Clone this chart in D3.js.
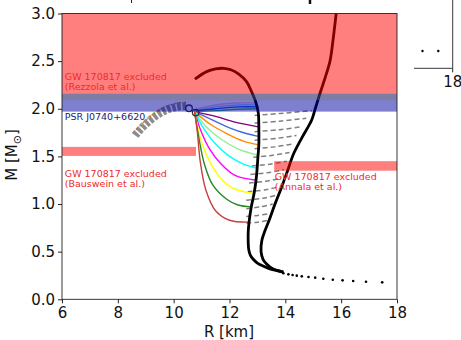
<!DOCTYPE html>
<html>
<head>
<meta charset="utf-8">
<script src="https://cdn.jsdelivr.net/npm/d3@7"></script>
<style>
  body { margin: 0; background: #fff; }
  text { font-family: "DejaVu Sans", sans-serif; }
</style>
</head>
<body>
<div class="chart"></div>
<script>
// axis ticks
var tickR = [6, 8, 10, 12, 14, 16, 18];
var tickM = [0, 0.5, 1, 1.5, 2, 2.5, 3];

// black M-R curves (R km, M Msun)
var curveA = [[10.76,2.31],[11.18,2.39],[11.5,2.418],[11.78,2.425],[12.05,2.41],[12.32,2.365],[12.61,2.285],
  [12.79,2.18],[12.93,2.08],[13.03,1.96],[13.05,1.81],[13.05,1.62],[13.02,1.5],[12.99,1.375],[12.95,1.25],
  [12.88,1.11],[12.78,0.97],[12.7,0.81],[12.67,0.7],[12.67,0.6],[12.69,0.52],[12.75,0.46],[12.85,0.42],
  [13.0,0.38],[13.2,0.35],[13.45,0.32],[13.7,0.30],[13.93,0.285]];
var curveB = [[15.82,3.0],[15.7,2.7],[15.6,2.5],[15.42,2.32],[15.24,2.16],[15.06,1.99],[14.94,1.88],[14.6,1.7],
  [14.3,1.53],[14.08,1.35],[13.87,1.18],[13.63,1.0],[13.42,0.83],[13.27,0.72],[13.16,0.62],[13.13,0.5],
  [13.2,0.42],[13.33,0.37],[13.55,0.32],[13.93,0.285]];
// crust tail, drawn as dots
var crustR = [13.93,14.11,14.26,14.41,14.59,14.83,15.07,15.36,15.70,16.05,16.43,16.89,17.47];
var crustM = [0.273,0.262,0.255,0.248,0.241,0.234,0.227,0.216,0.206,0.199,0.192,0.185,0.178];

// hybrid branches, top to bottom
var hybridColors = ["#ffb6c1","#87cefa","#1e50ff","#3cb371","#800080","#4169e1","#ff8c00",
  "#90ee90","#00ffff","#ff00ff","#ffff00","#228b22","#c84040"];
var hybridBranches = [
  [[10.75,1.99],[11.5,2.04],[12.3,2.06],[13.0,2.06]],
  [[10.75,1.98],[11.5,2.02],[12.3,2.04],[13.02,2.04]],
  [[10.75,1.975],[11.5,2.0],[12.3,2.02],[13.03,2.02]],
  [[10.75,1.97],[11.5,1.98],[12.3,1.995],[13.04,2.0]],
  [[10.75,1.97],[11.5,1.92],[12.2,1.86],[13.03,1.81]],
  [[10.75,1.97],[11.4,1.88],[12.0,1.8],[12.6,1.74],[13.03,1.71]],
  [[10.75,1.97],[11.3,1.84],[11.9,1.74],[12.5,1.66],[13.05,1.62]],
  [[10.75,1.97],[11.2,1.8],[11.7,1.68],[12.3,1.58],[13.0,1.515]],
  [[10.75,1.97],[11.1,1.78],[11.5,1.63],[12.0,1.5],[12.5,1.42],[13.0,1.375]],
  [[10.75,1.97],[11.0,1.75],[11.3,1.57],[11.7,1.42],[12.2,1.3],[12.97,1.25]],
  [[10.75,1.97],[10.95,1.7],[11.2,1.5],[11.6,1.3],[12.1,1.17],[12.9,1.11]],
  [[10.75,1.97],[10.9,1.7],[11.1,1.42],[11.4,1.2],[11.9,1.05],[12.3,0.99],[12.78,0.97]],
  [[10.75,1.97],[10.85,1.75],[10.95,1.45],[11.15,1.15],[11.5,0.93],[12.0,0.83],[12.7,0.81]]
];
// grey dashed twin branches between curve A and curve B
var twinBranches = [
  [[12.9,1.93],[13.8,1.95],[14.95,1.98]],
  [[12.9,1.85],[13.8,1.87],[14.75,1.9]],
  [[12.9,1.76],[13.8,1.78],[14.55,1.81]],
  [[12.9,1.67],[13.7,1.69],[14.4,1.72]],
  [[12.9,1.58],[13.6,1.6],[14.25,1.63]],
  [[12.85,1.49],[13.5,1.51],[14.15,1.54]],
  [[12.8,1.4],[13.5,1.42],[14.05,1.45]],
  [[12.75,1.31],[13.4,1.33],[13.95,1.36]],
  [[12.7,1.22],[13.3,1.24],[13.85,1.27]],
  [[12.65,1.13],[13.3,1.15],[13.75,1.18]],
  [[12.6,1.04],[13.2,1.06],[13.65,1.09]],
  [[12.6,0.95],[13.1,0.97],[13.55,1.0]],
  [[12.6,0.87],[13.0,0.88],[13.45,0.9]],
  [[12.6,0.8],[13.0,0.81],[13.4,0.83]]
];
// unstable branch bundle left of the maximum (centre line)
var unstableBranch = [[10.44,2.029],[10.08,2.018],[9.58,1.966],[9.08,1.86],[8.69,1.746],[8.62,1.72]];
var unstableEdgeColors = ["#e05030","#e8c020","#40a040","#e08030"];
var maxPoints = [[10.55,2.005],[10.79,1.96]];

// constraint bands
var bandR = [[6,18],[6,18],[6,18],[6,10.8],[13.6,18]];
var bandM = [[2.16,3.0],[1.97,2.16],[2.09,2.16],[1.505,1.6],[1.35,1.45]];
var bandColors = ["#ff0000","#0000a0","#7a7a4a","#ff0000","#ff0000"];
var bandAlpha = [0.5, 0.5, 0.3, 0.5, 0.5];

var labelLines = [["GW 170817 excluded","(Rezzola et al.)"],["PSR J0740+6620"],
  ["GW 170817 excluded","(Bauswein et al.)"],["GW 170817 excluded","(Annala et al.)"]];
var labelPos = [[6.1,2.297],[6.1,1.88],[6.1,1.289],[13.62,1.252]];
var labelColors = ["#f02a2a","#1a1a7a","#f02a2a","#f02a2a"];

var width = 461, height = 340;
var svg = d3.select(".chart").append("svg")
    .attr("width", width).attr("height", height);

var x = d3.scaleLinear().domain([6, 18]).range([62, 397]);
var y = d3.scaleLinear().domain([0, 3]).range([299.3, 13.5]);

var plot = svg.append("g");
plot.append("clipPath").attr("id", "clip")
  .append("rect").attr("x", 62).attr("y", 13.5).attr("width", 335).attr("height", 285.8);
var inner = plot.append("g").attr("clip-path", "url(#clip)");

var line = d3.line()
    .x(function(d) { return x(d[0]); })
    .y(function(d) { return y(d[1]); })
    .curve(d3.curveCatmullRom);

// unstable bundle: thick dashed grey, coloured dashes on its upper edge
inner.append("path")
  .attr("d", line(unstableBranch))
  .attr("fill", "none").attr("stroke", "#8c8c8c")
  .attr("stroke-width", 8).attr("stroke-dasharray", "3.5,1.7");
unstableEdgeColors.forEach(function(c, i) {
  inner.append("path")
    .attr("d", line(unstableBranch.map(function(p) { return [p[0], p[1] + 0.04]; })))
    .attr("fill", "none").attr("stroke", c)
    .attr("stroke-width", 1.2).attr("stroke-dasharray", "1.5,8")
    .attr("stroke-dashoffset", -i * 2.4);
});

// twin branches
inner.selectAll(".twin").data(twinBranches).enter()
  .append("path").attr("class", "twin")
  .attr("d", line)
  .attr("fill", "none").attr("stroke", "#808080")
  .attr("stroke-width", 1.5).attr("stroke-dasharray", "5,3");

// hybrid branches
inner.selectAll(".hybrid").data(hybridBranches).enter()
  .append("path").attr("class", "hybrid")
  .attr("d", line)
  .attr("fill", "none")
  .attr("stroke", function(d, i) { return hybridColors[i]; })
  .attr("stroke-width", 1.4);

// black curves
[curveA, curveB].forEach(function(c) {
  inner.append("path").attr("d", line(c))
    .attr("fill", "none").attr("stroke", "#000").attr("stroke-width", 2.8);
});
inner.selectAll(".crust").data(crustR).enter()
  .append("circle").attr("class", "crust")
  .attr("cx", function(d) { return x(d); })
  .attr("cy", function(d, i) { return y(crustM[i]); })
  .attr("r", 1.3).attr("fill", "#000");

// maximum mass markers
inner.selectAll(".maxpt").data(maxPoints).enter()
  .append("circle").attr("class", "maxpt")
  .attr("cx", function(d) { return x(d[0]); })
  .attr("cy", function(d) { return y(d[1]); })
  .attr("r", 3.3).attr("fill", "none")
  .attr("stroke", "#333").attr("stroke-width", 1.3);

// bands (semi-transparent, over the curves)
inner.selectAll(".band").data(bandM).enter()
  .append("rect").attr("class", "band")
  .attr("x", function(d, i) { return x(bandR[i][0]); })
  .attr("width", function(d, i) { return x(bandR[i][1]) - x(bandR[i][0]); })
  .attr("y", function(d) { return y(d[1]); })
  .attr("height", function(d) { return y(d[0]) - y(d[1]); })
  .attr("fill", function(d, i) { return bandColors[i]; })
  .attr("fill-opacity", function(d, i) { return bandAlpha[i]; });

// band labels
labelLines.forEach(function(lines, i) {
  var t = inner.append("text")
    .attr("x", x(labelPos[i][0])).attr("y", y(labelPos[i][1]))
    .attr("fill", labelColors[i]).attr("font-size", 9.5);
  lines.forEach(function(s, j) {
    t.append("tspan").attr("x", x(labelPos[i][0])).attr("dy", j ? 10 : 0).text(s);
  });
});

// frame and axes
plot.append("rect").attr("x", 62).attr("y", 13.5).attr("width", 335).attr("height", 285.8)
  .attr("fill", "none").attr("stroke", "#222").attr("stroke-width", 0.9);

var xAxis = plot.append("g").attr("transform", "translate(0,299.3)")
  .call(d3.axisBottom(x).tickValues(tickR).tickFormat(d3.format("d")).tickSize(4).tickPadding(4));
var yAxis = plot.append("g").attr("transform", "translate(62,0)")
  .call(d3.axisLeft(y).tickValues(tickM).tickFormat(d3.format(".1f")).tickSize(4).tickPadding(3));
[xAxis, yAxis].forEach(function(a) {
  a.select(".domain").remove();
  a.selectAll("text").attr("font-size", 15).attr("font-family", "DejaVu Sans").attr("fill", "#111");
  a.selectAll("line").attr("stroke", "#222");
});

svg.append("text").attr("x", 229).attr("y", 337).attr("text-anchor", "middle")
  .attr("font-size", 15).attr("fill", "#111").text("R [km]");
var yl = svg.append("text").attr("transform", "translate(17,155) rotate(-90)")
  .attr("text-anchor", "middle").attr("font-size", 15).attr("fill", "#111");
yl.append("tspan").text("M [M");
yl.append("tspan").attr("font-size", 11).attr("dy", 4).text("\u2299");
yl.append("tspan").attr("dy", -4).text("]");

// neighbouring panel, cut off at the right edge
var side = svg.append("g");
side.append("path").attr("d", "M414,68.3H452.7V0").attr("fill", "none").attr("stroke", "#222").attr("stroke-width", 0.9);
side.append("line").attr("x1", 452.7).attr("x2", 452.7).attr("y1", 68.3).attr("y2", 72.3).attr("stroke", "#222");
side.append("text").attr("x", 452.7).attr("y", 87).attr("text-anchor", "middle")
  .attr("font-size", 15).attr("fill", "#111").text("18");
side.selectAll(".sdot").data([422.5, 438.3]).enter().append("circle")
  .attr("cx", function(d) { return d; }).attr("cy", 51).attr("r", 1.2).attr("fill", "#000");
// clipped title glyphs above the plot
svg.append("line").attr("x1", 131.5).attr("x2", 131.5).attr("y1", 0).attr("y2", 3).attr("stroke", "#222");
svg.append("line").attr("x1", 310).attr("x2", 310).attr("y1", 0).attr("y2", 4).attr("stroke", "#111").attr("stroke-width", 2.5);
</script>
</body>
</html>
